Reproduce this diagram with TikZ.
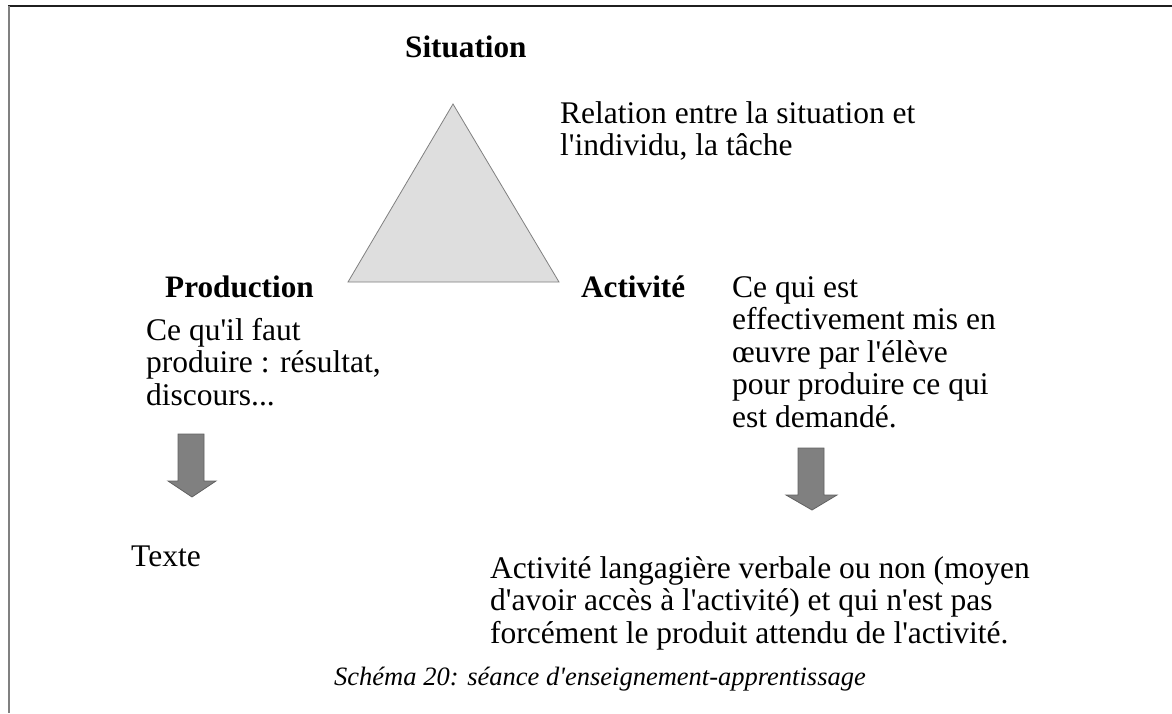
\documentclass[tikz,border=0pt]{standalone}
\usepackage{fontspec}
\setmainfont{Liberation Serif}[Ligatures=TeXOff]
\newcommand{\mylines}[1]{\begin{tabular}[t]{@{}l@{}}#1\end{tabular}}
\begin{document}
\begin{tikzpicture}[x=1pt,y=-1pt,
  txt/.style={inner sep=0pt,anchor=base west,font=\fontsize{31.5}{32.5}\selectfont},
  lbl/.style={inner sep=0pt,anchor=base west,font=\fontsize{31.2}{32.5}\selectfont\bfseries},
  captxt/.style={inner sep=0pt,anchor=base,font=\fontsize{26.5}{30}\selectfont\itshape},
  bigarrow/.style={fill=black!50,draw=black!62,line width=0.8pt}]
\useasboundingbox (0,0) rectangle (1172,713);
\fill[white] (0,0) rectangle (1172,713);
% frame
\draw[black!88,line width=2pt] (8,6) -- (1172,6);
\draw[black!50,line width=2pt] (8.5,6) -- (8.5,713);
% triangle
\draw[fill=black!13,draw=black!50,line width=0.8pt] (453,104) -- (559,282) -- (348,282) -- cycle;
% labels
\node[lbl] (sit) at (405,57) {Situation};
\node[txt] (rel) at (560,123) {\mylines{Relation entre la situation et\\l'individu, la tâche}};
\node[lbl] (prod) at (165,297) {Production};
\node[lbl] (act) at (581,297) {Activité};
\node[txt] (actd) at (732,297) {\mylines{Ce qui est\\effectivement mis en\\œuvre par l'élève\\pour produire ce qui\\est demandé.}};
\node[txt] (prodd) at (146,340) {\mylines{Ce qu'il faut\\produire : résultat,\\discours...}};
\node[txt] (texte) at (131,566) {Texte};
\node[txt] (lang) at (490,578) {\mylines{Activité langagière verbale ou non (moyen\\d'avoir accès à l'activité) et qui n'est pas\\forcément le produit attendu de l'activité.}};
\node[captxt] (caption) at (600,685) {Schéma 20: séance d'enseignement-apprentissage};
% arrows
\draw[bigarrow] (178,434) -- (204,434) -- (204,481) -- (216,481) -- (192,497) -- (168,481) -- (178,481) -- cycle;
\draw[bigarrow] (798,448) -- (824,448) -- (824,495) -- (837,495) -- (812,510) -- (786,495) -- (798,495) -- cycle;
\end{tikzpicture}
\end{document}
